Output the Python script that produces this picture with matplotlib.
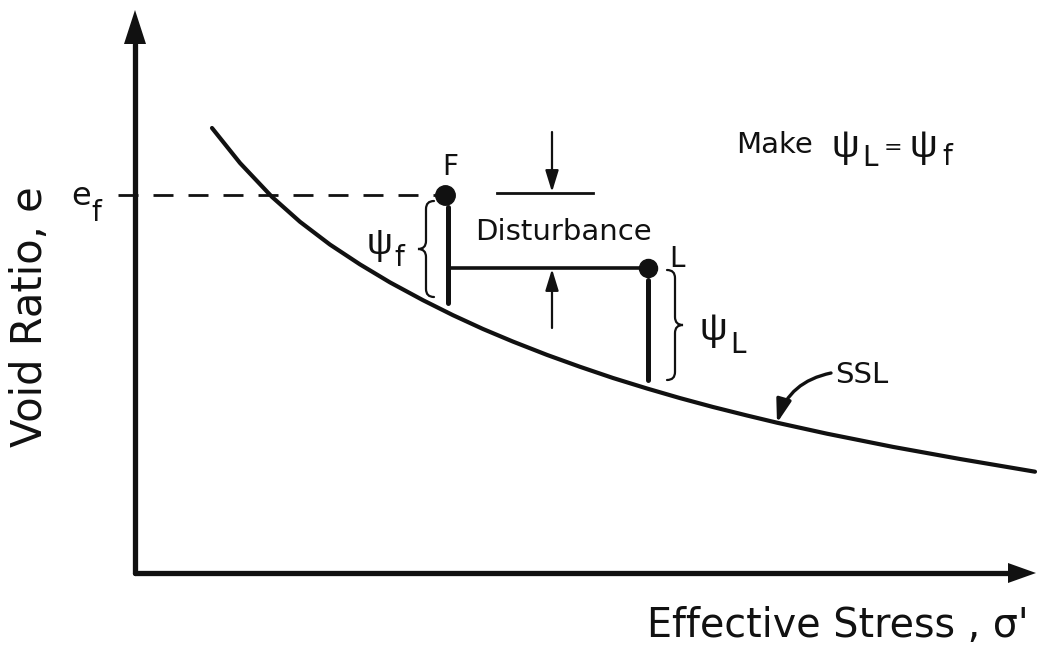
import numpy as np
import matplotlib
matplotlib.use("Agg")
import matplotlib.pyplot as plt
from matplotlib.path import Path
from matplotlib.patches import PathPatch, Polygon

# Sketch coordinates: x = effective stress, y = void ratio (drawn downward-increasing)
ssl_x = [212, 240, 272, 300, 330, 360, 390, 423, 453, 483, 513, 547, 580,
         613, 647, 680, 713, 747, 777, 827, 893, 960, 1035]
ssl_y = [128, 163, 196.9, 221.8, 244.6, 264.4, 282.4, 300.2, 315.2, 329,
         341.6, 354.9, 366.8, 378, 388.5, 398.1, 407, 415.5, 422.7, 433.7,
         446.9, 459, 471.7]

point_F = (445, 195)
point_L = (648, 268)
ssl_bottom_F = 303   # foot of the F state-parameter line
ssl_bottom_L = 380   # foot of the L state-parameter line

origin = (135, 573)
x_axis_end = 1036
y_axis_end = 10

INK = "#111111"
FONT = "DejaVu Sans"
GREEK = ["Liberation Sans", "DejaVu Sans"]


def brace(ax, x_edge, y0, y1, width, facing="left", lw=1.6):
    """Curly brace spanning y0..y1; tip points to `facing`."""
    s = -1 if facing == "left" else 1
    xm = x_edge + s * width / 2
    xt = x_edge + s * width
    ym = (y0 + y1) / 2
    r = 8
    verts = [(x_edge, y0), (xm, y0), (xm, y0 + r),
             (xm, ym - r),
             (xm, ym), (xt, ym),
             (xm, ym), (xm, ym + r),
             (xm, y1 - r),
             (xm, y1), (x_edge, y1)]
    codes = [Path.MOVETO, Path.CURVE3, Path.CURVE3,
             Path.LINETO,
             Path.CURVE3, Path.CURVE3,
             Path.CURVE3, Path.CURVE3,
             Path.LINETO,
             Path.CURVE3, Path.CURVE3]
    ax.add_patch(PathPatch(Path(verts, codes), fill=False, lw=lw,
                           edgecolor=INK, capstyle="round"))


def axis_arrow(ax, start, end, head_len=34, head_w=11, lw=3.8):
    x0, y0 = start
    x1, y1 = end
    d = np.array([x1 - x0, y1 - y0], dtype=float)
    d /= np.hypot(*d)
    n = np.array([-d[1], d[0]])
    base = np.array([x1, y1]) - d * head_len
    ax.plot([x0, base[0]], [y0, base[1]], color=INK, lw=lw,
            solid_capstyle="round")
    ax.add_patch(Polygon([(x1, y1), base + n * head_w, base - n * head_w],
                         closed=True, color=INK, lw=0))


def psi(ax, x, y, sub, size=26, sub_size=19, dx=22, dy=10):
    ax.text(x, y, "ψ", fontsize=size, family=GREEK, color=INK,
            ha="left", va="baseline")
    ax.text(x + dx, y + dy, sub, fontsize=sub_size, family=FONT, color=INK,
            ha="left", va="baseline")


fig = plt.figure(figsize=(10.37, 6.45), dpi=100)
ax = fig.add_axes([0, 0, 1, 1])
ax.set_xlim(0, 1037)
ax.set_ylim(645, 0)
ax.axis("off")

# axes with arrowheads
axis_arrow(ax, origin, (origin[0], y_axis_end))
axis_arrow(ax, origin, (x_axis_end, origin[1]), head_len=28, head_w=10)

# steady state line
ax.plot(ssl_x, ssl_y, color=INK, lw=3.0, solid_capstyle="round",
        solid_joinstyle="round")

# e_f dashed reference
ax.plot([118, point_F[0]], [point_F[1], point_F[1]], color=INK, lw=2.0,
        dashes=(7.2, 5.4))
ax.text(71, 205, "e", fontsize=23, family=FONT, color=INK,
        ha="left", va="baseline")
ax.text(91, 221, "f", fontsize=20, family=FONT, color=INK,
        ha="left", va="baseline")

# F state and its state parameter
ax.plot([448, 448], [point_F[1] + 12, ssl_bottom_F], color=INK, lw=3.6,
        solid_capstyle="round")
ax.plot(*point_F, "o", color=INK, ms=14)
ax.text(450, 175, "F", fontsize=20, family=FONT, color=INK,
        ha="center", va="baseline")
brace(ax, 434, point_F[1] + 6, ssl_bottom_F - 6, 16, facing="left")
psi(ax, 367, 254, "f", size=26, sub_size=20, dx=27, dy=12)

# disturbance from F to L
ax.plot([448, point_L[0]], [point_L[1], point_L[1]], color=INK, lw=2.6)
ax.plot([point_L[0], point_L[0]], [point_L[1] + 12, ssl_bottom_L], color=INK,
        lw=3.6, solid_capstyle="round")
ax.plot(*point_L, "o", color=INK, ms=13)
ax.text(677, 267, "L", fontsize=20, family=FONT, color=INK,
        ha="center", va="baseline")
brace(ax, 667, point_L[1] + 2, ssl_bottom_L, 16, facing="right")
psi(ax, 700, 340, "L", size=28, sub_size=20, dx=30, dy=13)

ax.plot([497, 593], [193, 193], color=INK, lw=2.0)
ax.annotate("", xy=(552, 192), xytext=(552, 132),
            arrowprops=dict(arrowstyle="-|>,head_length=1.3,head_width=0.4",
                            color=INK, lw=1.6, shrinkA=0, shrinkB=0))
ax.annotate("", xy=(552, point_L[1] + 1), xytext=(552, 328),
            arrowprops=dict(arrowstyle="-|>,head_length=1.3,head_width=0.4",
                            color=INK, lw=1.6, shrinkA=0, shrinkB=0))
ax.text(563, 240, "Disturbance", fontsize=21, family=FONT, color=INK,
        ha="center", va="baseline")

# condition
ax.text(736, 153, "Make", fontsize=21, family=FONT, color=INK,
        ha="left", va="baseline")
psi(ax, 832, 157, "L", size=28, sub_size=20, dx=30, dy=9)
ax.text(884, 154, "=", fontsize=16, family=FONT, color=INK,
        ha="left", va="baseline")
psi(ax, 910, 157, "f", size=28, sub_size=20, dx=32, dy=8)

# SSL label with curved pointer
ax.text(835, 383, "SSL", fontsize=21, family=FONT, color=INK,
        ha="left", va="baseline")
ax.annotate("", xy=(777, 423), xytext=(831, 373),
            arrowprops=dict(arrowstyle="-|>,head_length=1.4,head_width=0.45",
                            color=INK, lw=2.4, shrinkA=0, shrinkB=0,
                            connectionstyle="arc3,rad=0.3"))

# axis titles
ax.text(647, 637, "Effective Stress , σ'", fontsize=28.5, family=FONT,
        color=INK, ha="left", va="baseline")
ax.text(30, 317, "Void Ratio, e", fontsize=30, family=FONT, color=INK,
        ha="center", va="center", rotation=90)

fig.savefig("out.png", dpi=100)
